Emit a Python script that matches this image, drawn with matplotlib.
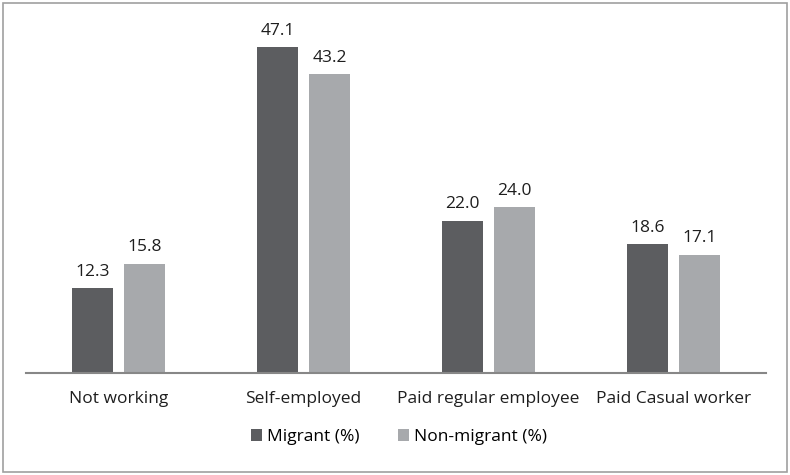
import numpy as np
import matplotlib.pyplot as plt
from matplotlib.patches import Rectangle

# data
categories = ['Not working', 'Self-employed', 'Paid regular employee', 'Paid Casual worker']
migrant = [12.3, 47.1, 22.0, 18.6]
non_migrant = [15.8, 43.2, 24.0, 17.1]

dark = '#5c5d60'
light = '#a7a9ac'

plt.rcParams['font.family'] = ['Open Sans', 'DejaVu Sans']

fig = plt.figure(figsize=(7.9, 4.75), dpi=100)
ax = fig.add_axes([26 / 790, 1 - 373 / 475, 740 / 790, 346 / 475])

x = np.arange(len(categories))
w = 0.225
gap = 0.055
b1 = ax.bar(x - (w + gap) / 2, migrant, w, color=dark, label='Migrant (%)')
b2 = ax.bar(x + (w + gap) / 2, non_migrant, w, color=light, label='Non-migrant (%)')

for bars, vals in [(b1, migrant), (b2, non_migrant)]:
    for bar, v in zip(bars, vals):
        ax.text(bar.get_x() + bar.get_width() / 2, v + 1.2, f"{v:.1f}",
                ha='center', va='bottom', fontsize=12.5, color='#1e1e1e')

ax.set_xlim(-0.5, len(categories) - 0.5)
ax.set_ylim(0, 50)
ax.set_yticks([])
ax.set_xticks(x)
ax.set_xticklabels(categories, fontsize=12.5, color='#1e1e1e')
ax.tick_params(axis='x', length=0, pad=13)
for s in ['top', 'right', 'left']:
    ax.spines[s].set_visible(False)
ax.spines['bottom'].set_color('#878787')
ax.spines['bottom'].set_linewidth(1.5)

fig.legend(handles=[b1, b2], loc='center', bbox_to_anchor=(0.505, 1 - 437 / 475),
           ncol=2, frameon=False, fontsize=12.5, handlelength=0.65, handleheight=0.65,
           handletextpad=0.3, columnspacing=2.2)

# outer frame around the whole figure
fig.patches.append(Rectangle((3 / 790, 3 / 475), 784 / 790, 469 / 475, transform=fig.transFigure,
                             fill=False, edgecolor='#a0a0a0', linewidth=1.2))

fig.savefig('out.png', dpi=100)
